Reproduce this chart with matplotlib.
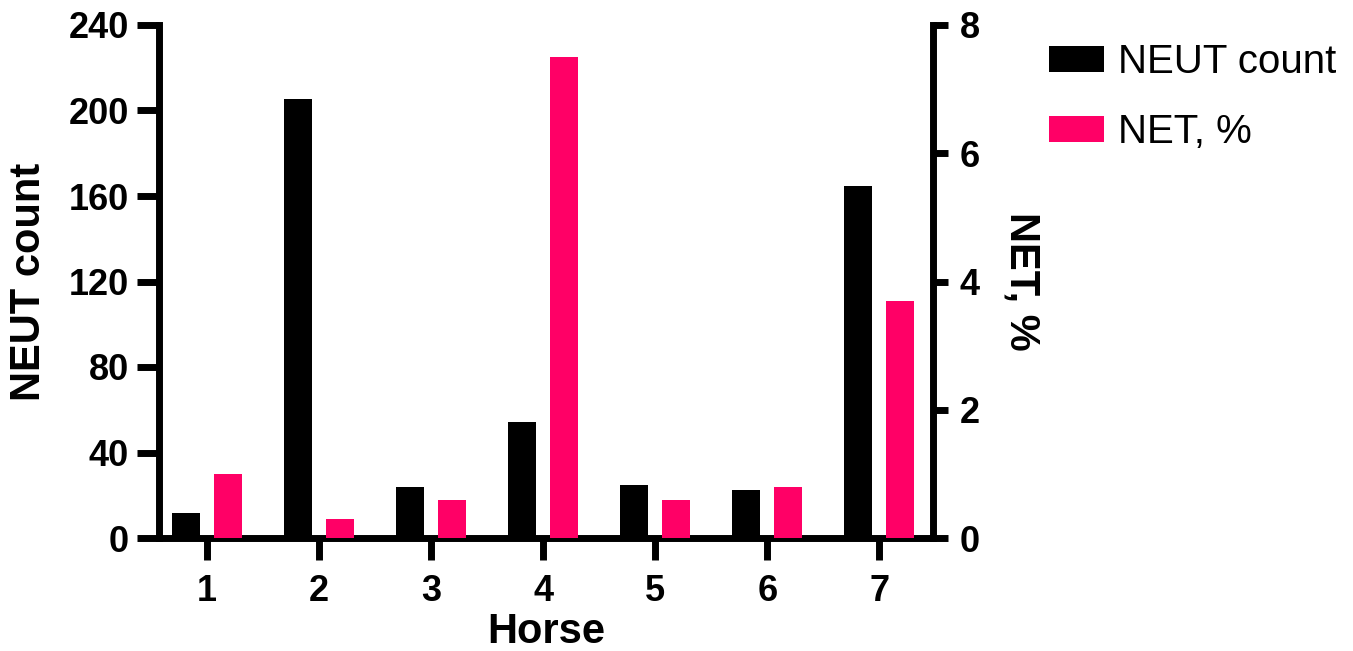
import matplotlib
matplotlib.use('Agg')
import matplotlib.pyplot as plt
import numpy as np

plt.rcParams['font.family'] = 'Liberation Sans'

# 数据
horses = ['1', '2', '3', '4', '5', '6', '7']
neut_count = [11.5, 205.5, 24, 54.5, 24.8, 22.3, 164.8]
net_pct = [1.0, 0.3, 0.6, 7.5, 0.6, 0.8, 3.7]

black = '#000000'
pink = '#ff0066'

fig = plt.figure(figsize=(13.53, 6.51), dpi=100)
ax = fig.add_axes([159 / 1353, 1 - 538 / 651, (933 - 159) / 1353, (538 - 25) / 651])
ax2 = ax.twinx()

x = np.arange(1, len(horses) + 1)
w = 0.25
b1 = ax.bar(x - 0.1875, neut_count, w, color=black, label='NEUT count', zorder=2)
b2 = ax2.bar(x + 0.1875, net_pct, w, color=pink, label='NET, %', zorder=2)

ax.set_xlim(0.57, 7.48)
ax.set_ylim(0, 240)
ax2.set_ylim(0, 8)
ax.set_yticks(range(0, 241, 40))
ax2.set_yticks(range(0, 9, 2))
ax.set_xticks(x)
ax.set_xticklabels(horses)

lw = 5
for a in (ax, ax2):
    a.spines['top'].set_visible(False)
    for s in a.spines.values():
        s.set_linewidth(lw)
ax.spines['right'].set_visible(False)
ax2.spines['left'].set_visible(False)
ax2.spines['bottom'].set_visible(False)

ax.tick_params(axis='y', length=15.5, width=lw, pad=6, labelsize=26)
ax.tick_params(axis='x', length=16, width=lw, pad=10, labelsize=26)
ax2.tick_params(axis='y', length=11, width=lw, pad=8, labelsize=26)
for lab in ax.get_xticklabels() + ax.get_yticklabels() + ax2.get_yticklabels():
    lab.set_fontweight('bold')

ax.set_ylabel('NEUT count', fontsize=30, fontweight='bold', labelpad=14)
ax.set_xlabel('Horse', fontsize=30, fontweight='bold', labelpad=2)
ax2.set_ylabel('NET, %', fontsize=30, fontweight='bold', rotation=270,
               va='bottom', labelpad=16)

fig.legend([b1, b2], ['NEUT count', 'NET, %'], loc='upper left',
           bbox_to_anchor=(1049 / 1353, 1 - 43 / 651), frameon=False,
           fontsize=29, handlelength=1.37, handleheight=0.62,
           handletextpad=0.35, labelspacing=0.8, borderpad=0, borderaxespad=0)

plt.savefig('out.png', dpi=100)
